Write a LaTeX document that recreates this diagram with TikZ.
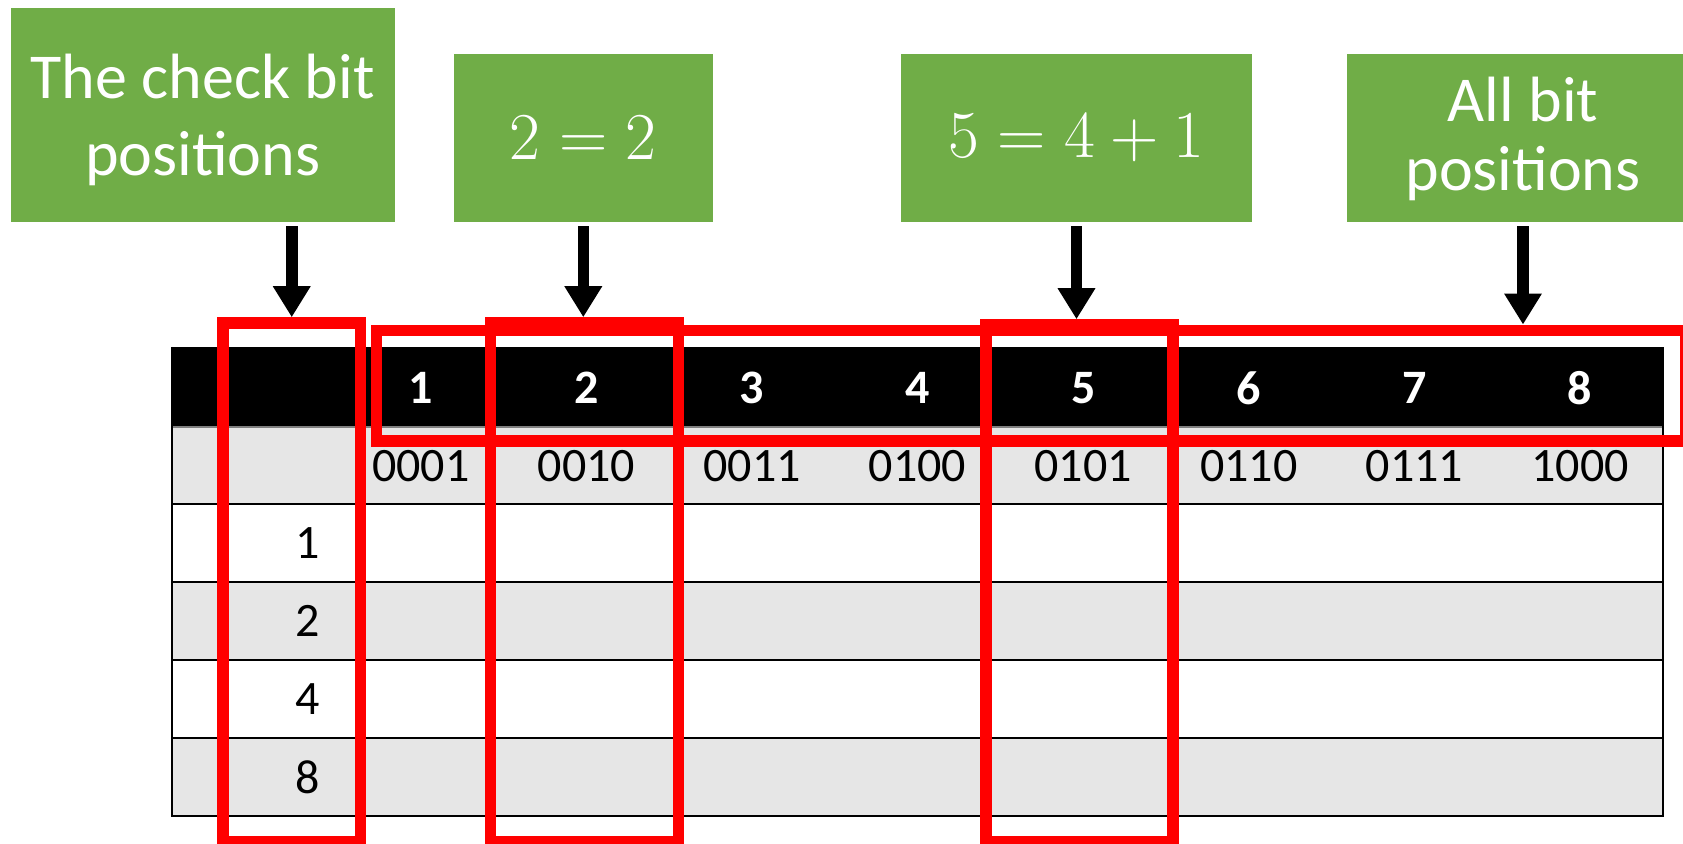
\RequirePackage{fix-cm}
\documentclass[tikz,border=0pt]{standalone}
\usepackage{fontspec}
\setmainfont{Carlito}
\usetikzlibrary{arrows.meta}
\definecolor{gboxc}{HTML}{70AD47}
\definecolor{tgrey}{HTML}{E6E6E6}
\definecolor{rboxc}{HTML}{FF0000}
\begin{document}
\begin{tikzpicture}[x=0.5pt,y=-0.5pt,
  gbox/.style={fill=gboxc, inner sep=0, text=white, align=center},
  gtxt/.style={text=white, inner sep=0, align=center, font=\fontsize{32}{38.4}\selectfont},
  gmath/.style={text=white, inner sep=0, font=\fontsize{33.5}{40}\selectfont},
  rbox/.style={draw=rboxc, line width=5.75pt, inner sep=0},
  arr/.style={line width=5.75pt, -{Triangle[width=17.8pt,length=15.5pt]}, shorten <=2pt},
  hd/.style={text=white, inner sep=0, font=\fontsize{24}{28}\selectfont\bfseries},
  cell/.style={inner sep=0, font=\fontsize{24}{28}\selectfont},
  tline/.style={line width=1pt, black}]
\useasboundingbox (0,0) rectangle (1683,844);

% table background
\fill[black] (172,347) rectangle (1663,427);
\fill[tgrey] (172,427) rectangle (1663,504);
\fill[tgrey] (172,582) rectangle (1663,660);
\fill[tgrey] (172,738) rectangle (1663,816);
\draw[gray, line width=0.8pt] (172,427) -- (1663,427);
\foreach \yy in {504,582,660,738} { \draw[tline] (172,\yy) -- (1663,\yy); }
\draw[tline] (172,347) -- (172,816) -- (1663,816) -- (1663,347);

% header and binary row
\foreach \k/\b in {1/0001,2/0010,3/0011,4/0100,5/0101,6/0110,7/0111,8/1000} {
  \node[hd] (h\k) at ({338+(\k-0.5)*165.6},388) {\k};
  \node[cell] (b\k) at ({338+(\k-0.5)*165.6},465.7) {\b};
}
% row labels
\node[cell, anchor=east] (r1) at (320,543.5) {1};
\node[cell, anchor=east] (r2) at (320,621) {2};
\node[cell, anchor=east] (r4) at (320,699) {4};
\node[cell, anchor=east] (r8) at (320,777) {8};

% green boxes
\node[gbox, minimum width=191.9pt, minimum height=107.15pt] (g1) at (202.6,114.9) {};
\node[gtxt] (t1) at ([yshift=-2.5pt]g1.center) {The check bit\\positions};
\node[gbox, minimum width=129.3pt, minimum height=84pt] (g2) at (583.3,138) {};
\node[gmath] (t2) at (g2.center) {$2=2$};
\node[gbox, minimum width=175.5pt, minimum height=84pt] (g3) at (1076.5,138) {};
\node[gmath] (t3) at (g3.center) {$5=4+1$};
\node[gbox, minimum width=176pt, minimum height=84pt] (g4) at (1523,138) {};
\node[gtxt, font=\fontsize{32}{34.5}\selectfont] (t4) at ([yshift=-0.5pt]g4.center) {All bit\\positions};

% red boxes
\node[rbox, minimum width=68.75pt, minimum height=259.5pt] (rA) at (291.75,582.5) {};
\node[rbox, minimum width=94pt, minimum height=259.5pt] (rB) at (584.5,582.5) {};
\node[rbox, minimum width=93.5pt, minimum height=258.5pt] (rD) at (1079.3,583.5) {};
\node[rbox, minimum width=654.75pt, minimum height=55.25pt] (rC) at (1031.25,385.55) {};

% arrows
\draw[arr] (g1.south -| rA.north) -- (rA.north);
\draw[arr] (g2.south) -- (g2.south |- rB.north);
\draw[arr] (g3.south) -- (g3.south |- rD.north);
\draw[arr] (g4.south) -- (g4.south |- rC.north);
\end{tikzpicture}
\end{document}
